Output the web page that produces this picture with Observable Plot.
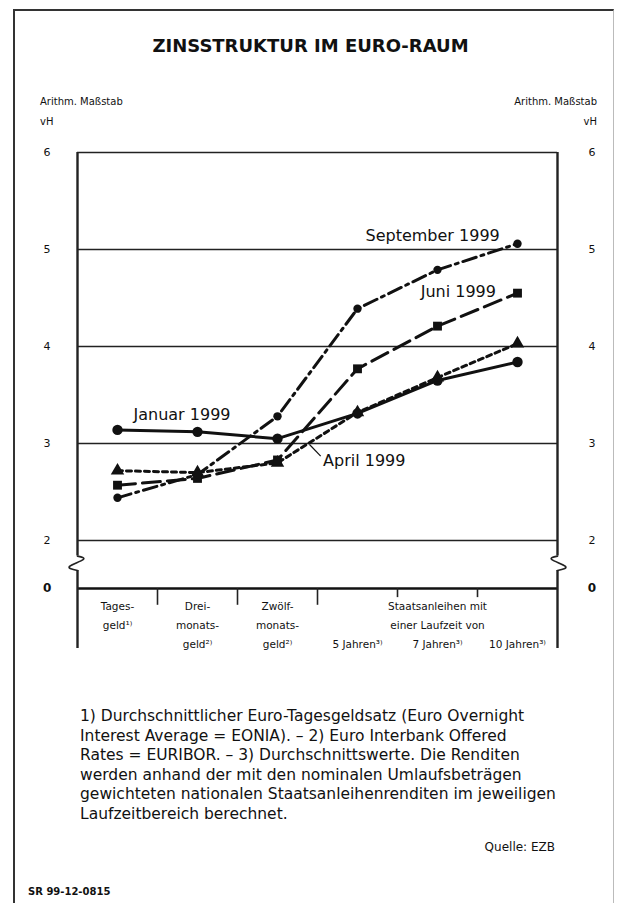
<!DOCTYPE html>
<html><head><meta charset="utf-8">
<script src="https://cdn.jsdelivr.net/npm/d3@7"></script>
<script src="https://cdn.jsdelivr.net/npm/@observablehq/plot@0.6"></script>
<style>
body{margin:0;background:#fff;}
#wrap{position:relative;width:621px;height:903px;overflow:hidden;font-family:"DejaVu Sans",sans-serif;color:#111;}
#chart svg{position:absolute;left:0;top:0;}
.t{position:absolute;white-space:nowrap;}
#border{position:absolute;left:13px;top:9px;width:598px;height:920px;border-left:2px solid #333;border-top:2px solid #333;border-right:1px solid #bbb;}
</style></head><body><div id="wrap">
<div id="border"></div>
<div id="chart"></div>
<div class="t" style="left:0;width:621px;top:35px;text-align:center;font-weight:bold;font-size:18px;">ZINSSTRUKTUR IM EURO-RAUM</div>
<div class="t" style="left:40px;top:96px;font-size:10px;">Arithm. Maßstab</div>
<div class="t" style="left:40px;top:116px;font-size:10px;">vH</div>
<div class="t" style="right:24px;top:96px;font-size:10px;text-align:right;">Arithm. Maßstab</div>
<div class="t" style="right:24px;top:116px;font-size:10px;text-align:right;">vH</div>
<div class="t" id="foot" style="left:80px;top:707px;font-size:15.5px;line-height:19.6px;"></div>
<div class="t" style="right:66px;top:840px;font-size:12px;">Quelle: EZB</div>
<div class="t" style="left:28px;top:886px;font-size:10px;font-weight:bold;">SR 99-12-0815</div>
</div>
<script>
// ---- data ----
const categories = ["Tagesgeld", "Dreimonatsgeld", "Zwölfmonatsgeld", "5 Jahre", "7 Jahre", "10 Jahre"];
const januar    = [3.14, 3.12, 3.05, 3.31, 3.65, 3.84];
const april     = [2.72, 2.70, 2.80, 3.32, 3.68, 4.03];
const juni      = [2.57, 2.64, 2.83, 3.77, 4.21, 4.55];
const september = [2.44, 2.68, 3.28, 4.39, 4.79, 5.06];
const seriesNames = ["Januar 1999", "April 1999", "Juni 1999", "September 1999"];
const yTickValues = [0, 2, 3, 4, 5, 6];
const gridValues = [2, 3, 4, 5, 6];
const categoryLines = [["Tages-", "geld¹⁾"], ["Drei-", "monats-", "geld²⁾"], ["Zwölf-", "monats-", "geld²⁾"]];
const bondHeader = ["Staatsanleihen mit", "einer Laufzeit von"];
const bondLabels = ["5 Jahren³⁾", "7 Jahren³⁾", "10 Jahren³⁾"];
const footnoteLines = [
  "1) Durchschnittlicher Euro-Tagesgeldsatz (Euro Overnight",
  "Interest Average = EONIA). – 2) Euro Interbank Offered",
  "Rates = EURIBOR. – 3) Durchschnittswerte. Die Renditen",
  "werden anhand der mit den nominalen Umlaufsbeträgen",
  "gewichteten nationalen Staatsanleihenrenditen im jeweiligen",
  "Laufzeitbereich berechnet."
];

document.getElementById("foot").innerHTML = footnoteLines.join("<br>");

// ---- build tables ----
const pos = (i) => i + 0.5; // category index -> x position (center of slot)
const seriesValues = [januar, april, juni, september];
const styles = [
  {dash: null, symbol: "circle", r: 5.2},
  {dash: "5,4", symbol: "triangle", r: 5},
  {dash: "18,7", symbol: "square", r: 5},
  {dash: "14,5,3,5", symbol: "circle", r: 4.2}
];
const seriesData = seriesValues.map((vals, s) => vals.map((v, i) => ({x: pos(i), y: v, cat: categories[i], series: seriesNames[s]})));

// annotation placement (data units)
const seriesLabels = [
  {text: seriesNames[0], x: 0.7, y: 3.29},
  {text: seriesNames[1], x: 3.07, y: 2.82},
  {text: seriesNames[2], x: 4.29, y: 4.56},
  {text: seriesNames[3], x: 3.6, y: 5.14}
];
const leader = [{x1: 2.9, y1: 2.99, x2: 3.04, y2: 2.87}];

const catRows = [];
categoryLines.forEach((lines, c) => lines.forEach((t, k) => catRows.push({x: pos(c), line: k, text: t})));
bondHeader.forEach((t, k) => catRows.push({x: 4.5, line: k, text: t}));
bondLabels.forEach((t, k) => catRows.push({x: pos(3 + k), line: 2, text: t}));
const lineY = (k) => -0.75 - k * 0.8;

const zigLeft = [{x: 0, y: 1.35}, {x: 0.07, y: 1.2}, {x: -0.1, y: 0.92}, {x: 0, y: 0.75}];
const zigRight = zigLeft.map(d => ({x: 6 - d.x, y: d.y}));

const marks = [
  Plot.ruleY(gridValues, {y: d => d, x1: 0, x2: 6, stroke: "#222", strokeWidth: 1.6}),
  Plot.ruleY([0], {y: d => d, x1: 0, x2: 6, stroke: "#111", strokeWidth: 2.6}),
  Plot.ruleX([0, 6], {x: d => d, y1: 6, y2: 1.35, stroke: "#222", strokeWidth: 2.4}),
  Plot.ruleX([0, 6], {x: d => d, y1: 0.75, y2: -2.5, stroke: "#222", strokeWidth: 2.4}),
  Plot.line(zigLeft, {x: "x", y: "y", stroke: "#222", strokeWidth: 1.6, curve: "natural"}),
  Plot.line(zigRight, {x: "x", y: "y", stroke: "#222", strokeWidth: 1.6, curve: "natural"}),
  Plot.ruleX([1, 2, 3], {x: d => d, y1: 0, y2: -0.7, stroke: "#222", strokeWidth: 1.6}),
  Plot.ruleX([4, 5], {x: d => d, y1: 0, y2: -0.38, stroke: "#222", strokeWidth: 1.6}),
];
seriesData.forEach((data, s) => {
  const st = styles[s];
  marks.push(Plot.line(data, {x: "x", y: "y", stroke: "#111", strokeWidth: 3, strokeDasharray: st.dash ?? undefined}));
  marks.push(Plot.dot(data, {x: "x", y: "y", symbol: st.symbol, r: st.r, fill: "#111", stroke: "none"}));
});
marks.push(
  Plot.text(seriesLabels, {x: "x", y: "y", text: "text", textAnchor: "start", fontSize: 16, fill: "#111", fontFamily: "DejaVu Sans"}),
  Plot.link(leader, {x1: "x1", y1: "y1", x2: "x2", y2: "y2", stroke: "#111", strokeWidth: 1.2}),
  Plot.text(catRows, {x: "x", y: d => lineY(d.line), text: "text", fontSize: 10.5, fill: "#111", fontFamily: "DejaVu Sans"}),
  Plot.text(yTickValues.filter(d => d !== 0), {x: -0.38, y: d => d, text: d => String(d), fontSize: 11, fill: "#111", fontFamily: "DejaVu Sans"}),
  Plot.text(yTickValues.filter(d => d !== 0), {x: 6.43, y: d => d, text: d => String(d), fontSize: 11, fill: "#111", fontFamily: "DejaVu Sans"}),
  Plot.text([0], {x: -0.38, y: d => d, text: d => String(d), fontSize: 12, fontWeight: "bold", fill: "#111", fontFamily: "DejaVu Sans"}),
  Plot.text([0], {x: 6.43, y: d => d, text: d => String(d), fontSize: 12, fontWeight: "bold", fill: "#111", fontFamily: "DejaVu Sans"})
);

const chart = Plot.plot({
  width: 621,
  height: 903,
  style: {background: "transparent", fontFamily: "DejaVu Sans"},
  x: {type: "linear", domain: [0, 6], range: [77, 557], axis: null},
  y: {type: "linear", domain: [0, 2, 6], range: [588, 540, 152], axis: null},
  marks
});
document.getElementById("chart").appendChild(chart);
</script>
</body></html>
